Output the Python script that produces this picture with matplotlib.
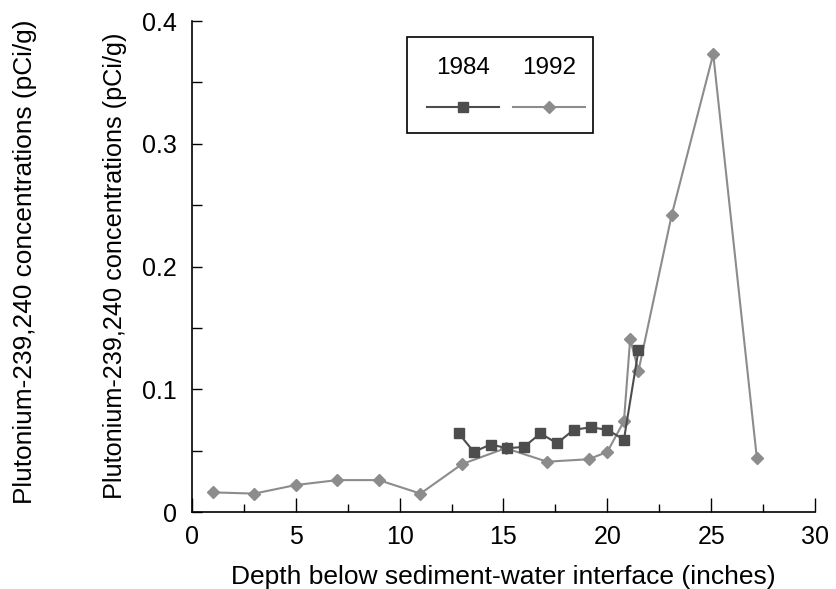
import matplotlib.pyplot as plt
from matplotlib.lines import Line2D
from matplotlib.patches import Rectangle
from matplotlib.ticker import MultipleLocator

plt.rcParams['font.family'] = ['Liberation Sans', 'DejaVu Sans']

# 1984 core
depth_1984 = [12.85, 13.57, 14.38, 15.18, 15.98, 16.78, 17.58, 18.38, 19.2, 20.0, 20.8, 21.5]
pu_1984 = [0.064, 0.049, 0.055, 0.052, 0.053, 0.064, 0.056, 0.067, 0.069, 0.067, 0.059, 0.132]

# 1992 core
depth_1992 = [1, 3, 5, 7, 9, 11, 13, 15.1, 17.1, 19.1, 20.0, 20.8, 21.1, 21.5, 23.1, 25.1, 27.2]
pu_1992 = [0.016, 0.015, 0.022, 0.026, 0.026, 0.015, 0.039, 0.052, 0.041, 0.043, 0.049,
           0.074, 0.141, 0.115, 0.242, 0.373, 0.044]

x_ticks = [0, 5, 10, 15, 20, 25, 30]
y_ticks = [0, 0.1, 0.2, 0.3, 0.4]
y_tick_labels = ['0', '0.1', '0.2', '0.3', '0.4']

ylabel = "Plutonium-239,240 concentrations (pCi/g)"
xlabel = "Depth below sediment-water interface (inches)"

dark = '#4d4d4d'
light = '#8c8c8c'

fig = plt.figure(figsize=(8.37, 5.89), dpi=100)
ax = fig.add_axes([0.2294, 0.1307, 0.7443, 0.8336])

ax.plot(depth_1992, pu_1992, color=light, lw=1.5, marker='D', ms=6.5,
        markeredgecolor=light, markerfacecolor=light, zorder=2)
ax.plot(depth_1984, pu_1984, color=dark, lw=1.5, marker='s', ms=7.5,
        markeredgecolor=dark, markerfacecolor=dark, zorder=3)

ax.set_xlim(0, 30)
ax.set_ylim(0, 0.4)
ax.set_xticks(x_ticks)
ax.set_yticks(y_ticks)
ax.set_yticklabels(y_tick_labels)
ax.xaxis.set_minor_locator(MultipleLocator(2.5))
ax.yaxis.set_minor_locator(MultipleLocator(0.05))
ax.tick_params(which='both', direction='in', width=1, labelsize=18)
ax.tick_params(axis='x', which='major', length=10, pad=9)
ax.tick_params(axis='x', which='minor', length=6)
ax.tick_params(axis='y', which='both', length=7, pad=11)
ax.spines['top'].set_visible(False)
ax.spines['right'].set_visible(False)
for s in ['left', 'bottom']:
    ax.spines[s].set_linewidth(1.2)

ax.set_xlabel(xlabel, fontsize=19, labelpad=12)
fig.text(0.030, 0.555, ylabel, rotation=90, fontsize=18.9, ha='center', va='center')
fig.text(0.137, 0.548, ylabel, rotation=90, fontsize=18.2, ha='center', va='center')

# legend box drawn by hand: year labels sit above the line samples
tr = ax.transAxes
x0, y0, x1, y1 = 0.345, 0.772, 0.644, 0.967
ax.add_patch(Rectangle((x0, y0), x1 - x0, y1 - y0, transform=tr, fill=False,
                       edgecolor='black', lw=1.2, zorder=5))
for cx, label, col, mk, ms in [(0.435, '1984', dark, 's', 7.5), (0.573, '1992', light, 'D', 6.5)]:
    ax.text(cx, 0.905, label, transform=tr, fontsize=17.5, ha='center', va='center')
    ax.add_line(Line2D([cx - 0.058, cx + 0.058], [0.825, 0.825], transform=tr, color=col, lw=1.5))
    ax.add_line(Line2D([cx], [0.825], transform=tr, color=col, marker=mk, ms=ms,
                       markerfacecolor=col, markeredgecolor=col))

fig.savefig('out.png', dpi=100)
